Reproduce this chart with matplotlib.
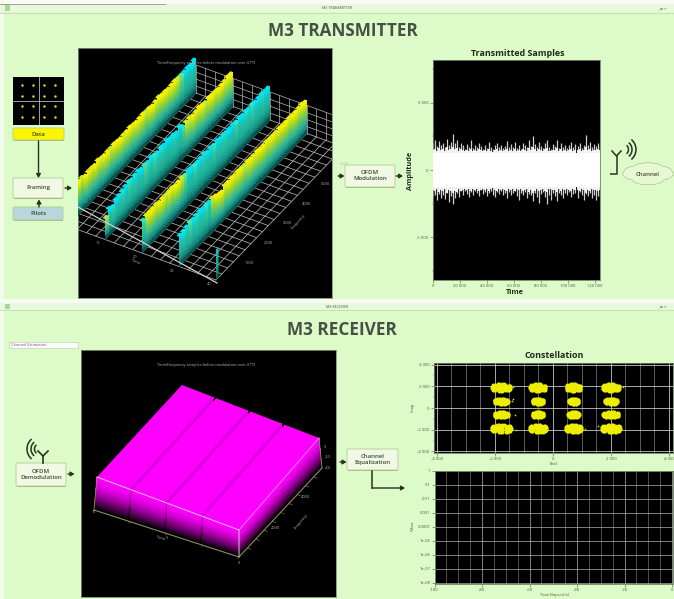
import numpy as np
import matplotlib
matplotlib.use("Agg")
import matplotlib.pyplot as plt
from matplotlib.patches import Rectangle, FancyBboxPatch, Ellipse, Arc, Polygon
from matplotlib.collections import PolyCollection
from matplotlib.colors import to_rgb
from matplotlib.ticker import NullLocator

# ---------------- data ----------------
main_titles = ["M3 TRANSMITTER", "M3 RECEIVER"]
ridge_times = [0, 10, 20, 30]
ridge1_height = [1.0,1.0,.98,1.0,1.02,.96,1.0,1.0,.98,1.04,1.0,.98,1.0,1.0,1.02,1.0,.98,1.0,1.0,1.03,
                 1.0,.98,1.0,1.02,1.0,1.0,.97,1.0,1.04,1.0,1.0,.98,1.0,1.02,1.0,1.0,1.0,1.02,1.0,1.05]
ridge2_height = [.62,.80,.74,.86,.88,.92,.96,1.0,.96,1.0,1.02,.98,1.0,.98,1.04,1.0,.97,1.02,1.0,1.05,
                 1.0,1.0,.97,1.06,.95,1.0,1.02,.98,1.0,1.04,1.0,.98,1.02,1.0,1.0,.98,1.0,1.02,1.05,1.04]
ridge3_height = [.95,1.0,1.0,1.0,1.02,.98,1.0,1.0,1.0,1.02,.98,1.0,1.03,1.0,1.04,1.02,1.0,1.0,1.02,1.05,
                 1.0,1.02,1.0,1.04,1.0,1.02,1.0,1.0,1.02,1.0,1.03,1.0,1.02,1.0,1.03,1.0,1.02,1.04,1.02,1.02]
ridge4_height = [.90,.92,.95,1.0,.98,1.0,1.02,1.0,1.0,1.0,1.02,.98,.92,.90,1.0,1.0,1.02,1.0,1.02,1.0,
                 1.0,1.02,1.0,1.0,1.02,1.0,1.0,1.02,1.0,1.0,1.0,1.02,1.0,1.0,1.02,1.0,1.0,1.02,1.04,1.0]
ridge1_tone = [0,.1,0,0,.2,0,0,.1,0,0,.1,0,0,.2,0,0,0,.1,0,0,
               .1,0,0,0,.2,0,0,.1,0,0,0,.1,0,0,.2,.6,1,1,1,1]
ridge2_tone = [.3,1,.9,1,1,.9,1,.8,1,.9,1,1,.7,.9,1,.8,1,.9,1,1,
               1,.9,1,1,.8,.2,.1,0,.1,0,0,.2,0,0,.1,0,0,.1,0,0]
ridge3_tone = [.8,.1,0,0,.1,0,0,.2,0,.1,0,0,.2,.6,1,1,.8,1,1,.9,
               1,1,.8,1,1,.9,1,1,1,.8,1,1,.9,1,.8,1,1,.9,1,1]
ridge4_tone = [1,.9,1,.7,1,.9,1,1,.8,1,.2,0,0,0,.1,0,0,.1,0,0,
               .2,0,0,.1,0,0,0,.1,0,0,.1,0,0,0,.1,0,0,.1,0,0]
ridge_heights = [ridge1_height, ridge2_height, ridge3_height, ridge4_height]
ridge_tones = [ridge1_tone, ridge2_tone, ridge3_tone, ridge4_tone]
time_ticks = [10, 20, 30, 40]
freq_ticks = [1000, 2000, 3000, 4000, 5000, 6000]
freq_max = 6700

samples_upper = [2050,2200,1800,2150,1900,2000,1750,2300,1850,2100,2650,2000,2250,1700,2050,1850,1600,1950,1750,2200,1650,
                 1900,1700,2000,1800,1600,1900,1650,2100,1750,1550,1850,2000,1700,1900,1650,1800,2150,1700,1950,1750,2100,
                 1650,1850,1600,2000,1900,1700,2200,1800,2500,1950,1700,2100,1800,1650,2000,2250,1750,1600,1950,1800,2200,
                 1650,2000,1750,1900,1650,1850,2100,1700,1950,1800,2000,1650,1900,2600,1850,2100,1750,1950,1800,2050,1900]
samples_lower = [-2000,-1850,-2200,-1800,-2050,-1900,-2150,-1750,-2400,-1950,-2550,-2100,-1750,-2000,-1600,-1850,-1550,-1800,-2000,-1650,-1900,
                 -1600,-1750,-1950,-1500,-1800,-1650,-1950,-1700,-1550,-1850,-2000,-1650,-1800,-1600,-1900,-1700,-2100,-1650,-1850,-1750,-1600,
                 -1950,-2200,-1700,-1850,-1650,-2050,-1800,-1900,-2300,-1750,-2000,-2450,-1800,-1650,-2000,-2550,-1850,-2250,-1700,-1950,-2300,
                 -1750,-1900,-2100,-1700,-1850,-1650,-2000,-1800,-1750,-2050,-1650,-1900,-2200,-1800,-1950,-1700,-2100,-1850,-2250,-1950,-2050]
samples_inner = [1500,1600,1450,1650,1500,1550,1400,1700,1500,1600,1750,1550,1650,1450,1550,1500,1400,1500,1450,1600,1400,
                 1500,1450,1550,1500,1400,1500,1450,1600,1450,1350,1500,1550,1450,1500,1400,1500,1600,1450,1500,1450,1600,
                 1400,1500,1400,1550,1500,1450,1650,1500,1700,1550,1450,1600,1500,1400,1550,1650,1450,1400,1500,1500,1650,
                 1400,1550,1450,1500,1400,1500,1600,1450,1500,1500,1550,1400,1500,1750,1500,1600,1450,1500,1500,1550,1500]
sample_ticks = [0, 20000, 40000, 60000, 80000, 100000, 120000]
amplitude_ticks = [-5000, 0, 5000]

qam_levels = [-3, -1, 1, 3]
const_x = [-1780, -517, 713, 2000]
const_y = [1880, 615, -615, -1900]
const_wx = [[345, 290, 265, 310], [250, 205, 175, 230], [255, 205, 195, 285], [370, 310, 290, 345]]
const_wy = [370, 300, 300, 400]
blob_u = [-.9,-.85,-.85,-.6,-.6,-.5,-.2,-.2,-.2,-.2,.1,.1,.1,.4,.4,.4,.4,.7,.7,.7,.9,.9,.85,-.9,.85,-.3,.25,-.65,.55,-.05,-.8,.8,-.8,.8,
          -.5,-.5,.1,.1,.7,.7,-.8,-.2,.4]
blob_v = [0,.35,-.35,.6,-.6,0,.8,-.8,.3,-.3,.85,-.85,0,.7,-.7,.2,-.25,.5,-.5,0,.1,-.2,.3,.1,-.3,.85,.85,-.6,-.7,-.85,.55,.5,-.55,-.5,
          .3,-.3,.4,-.4,.15,-.15,0,0,0]
stray_x = [-1500,-1380,-1420,-1950,-1260,-620,-220,-1320,2420,2350,1560,790,1120,2280,-1370]
stray_y = [2220,1950,620,-1500,-2000,-2000,-1950,-620,1900,-1650,-1700,1870,-1950,-620,800]
ber_ticks = [1, .1, .01, .001, .0001, 1e-5, 1e-6, 1e-7, 1e-8]
ber_labels = ["1", "0.1", "0.01", "0.001", "0.0001", "1e-05", "1e-06", "1e-07", "1e-08"]
elapsed_ticks = [-100, -80, -60, -40, -20, 0]
block_starts = [0, 10, 20, 30]
block_length = 9.1

# ---------------- figure helpers ----------------
W, H = 674, 599
BG = "#dcfbc8"
FONT = ["Open Sans", "DejaVu Sans"]
plt.rcParams["font.family"] = FONT
fig = plt.figure(figsize=(W / 100, H / 100), dpi=100, facecolor=BG)


def px_axes(x0, y0, x1, y1, **kw):
    return fig.add_axes([x0 / W, 1 - y1 / H, (x1 - x0) / W, (y1 - y0) / H], **kw)


page = px_axes(0, 0, W, H, zorder=0)
page.set_xlim(0, W)
page.set_ylim(H, 0)
page.axis("off")


def band(x0, y0, x1, y1, color):
    page.add_patch(Rectangle((x0, y0), x1 - x0, y1 - y0, fc=color, ec="none"))


def box(x0, y0, x1, y1, label, fc="#f1f8e3", size=4.3):
    page.add_patch(FancyBboxPatch((x0 + 1, y0 + 2), x1 - x0 - 1, y1 - y0 - 1, boxstyle="round,pad=0,rounding_size=1",
                                  fc="#9fbb78", ec="none"))
    page.add_patch(FancyBboxPatch((x0, y0), x1 - x0, y1 - y0, boxstyle="round,pad=0,rounding_size=1",
                                  fc=fc, ec="#b5cb92", lw=.6))
    page.text((x0 + x1) / 2, (y0 + y1) / 2, label, ha="center", va="center", fontsize=size,
              color="#39472f", fontweight="semibold", linespacing=1.25)


def arrow(x0, y0, x1, y1):
    page.annotate("", xy=(x1, y1), xytext=(x0, y0),
                  arrowprops=dict(arrowstyle="-|>,head_width=.13,head_length=.22", color="#26331f", lw=1.0,
                                  shrinkA=0, shrinkB=0))


def waves(cx, cy, flip=False):
    for r in (5.5, 9, 13):
        a = (130, 230) if flip else (-50, 50)
        page.add_patch(Arc((cx, cy), 2 * r, 2 * r, theta1=a[0], theta2=a[1], color="#26331f", lw=1.1))


# window chrome
band(0, 0, W, 4, "#f7fbf3")
band(0, 0, 4, H, "#f3faec")
band(0, 4, W, 12, "#e7f8dc")
page.plot([0, 165], [4.4, 4.4], color="#9aa596", lw=.7)
page.plot([0, W], [12.5, 12.5], color="#c2dcab", lw=.6)
band(0, 299, W, 303, "#f7fbf3")
band(0, 303, W, 310, "#e7f8dc")
page.plot([0, W], [310.4, 310.4], color="#c2dcab", lw=.6)
band(5, 5, 10, 11, "#a9d69a")
band(5, 303.5, 10, 309, "#a9d69a")
page.text(337, 8, "M3 TRANSMITTER", ha="center", va="center", fontsize=2.6, color="#555")
page.text(337, 306.5, "M3 RECEIVER", ha="center", va="center", fontsize=2.6, color="#555")
page.text(662, 8, "_ ▫ ×", ha="center", va="center", fontsize=3.2, color="#555")
page.text(662, 306.5, "_ ▫ ×", ha="center", va="center", fontsize=3.2, color="#555")

page.text(343, 31.5, main_titles[0], ha="center", va="center", fontsize=12.3, fontweight="bold", color="#465044")
page.text(342, 330, main_titles[1], ha="center", va="center", fontsize=12.4, fontweight="bold", color="#465044")

# transmitter diagram
mini = px_axes(13, 77, 64, 125, zorder=2, facecolor="black")
mini.set_xlim(-4.64, 4.64)
mini.set_ylim(-4.4, 4.4)
mini.set_xticks([])
mini.set_yticks([])
for s in mini.spines.values():
    s.set_visible(False)
mini.axhline(0, color="#bbbbbb", lw=.6)
mini.axvline(0, color="#bbbbbb", lw=.6)
mini.scatter(np.repeat(qam_levels, 4), np.tile(qam_levels, 4), s=3, color="#e6e620", lw=0)

box(13, 128, 64, 140, "Data", fc="#fbf500")
arrow(38.5, 141, 38.5, 178)
box(13, 178, 63, 198, "Framing")
arrow(39, 207, 39, 199.5)
box(13, 207, 63, 220, "Pilots", fc="#b8d6dc")
arrow(65, 188, 72, 188)
arrow(338, 176, 344.5, 176)
box(345, 165, 395, 187, "OFDM\nModulation")
arrow(396, 176, 403, 176)

# antenna + channel cloud
page.plot([610, 616.5, 616.5], [174, 174, 155], color="#26331f", lw=1.1, solid_capstyle="butt")
page.plot([612, 616.5, 621], [151, 156, 151], color="#26331f", lw=1.1)
waves(623, 149.5)
for cx, cy, w, h in [(648, 174, 50, 15), (634, 173, 20, 13), (662, 173, 20, 13), (648, 168, 30, 10), (648, 180, 30, 9)]:
    page.add_patch(Ellipse((cx, cy), w + 1, h + 1, fc="#8fb06a", ec="none"))
for cx, cy, w, h in [(648, 174, 50, 15), (634, 173, 20, 13), (662, 173, 20, 13), (648, 168, 30, 10), (648, 180, 30, 9)]:
    page.add_patch(Ellipse((cx, cy), w, h, fc="#e8f8d2", ec="none"))
page.text(648, 174, "Channel", ha="center", va="center", fontsize=4.3, fontweight="semibold", color="#39472f")

# receiver diagram
page.add_patch(Rectangle((9, 342), 69, 5.5, fc="#fbfdf8", ec="#b9c7b0", lw=.4))
page.text(11, 344.8, "Channel Estimation", ha="left", va="center", fontsize=2.8, color="#7c4f9c")
page.plot([43, 43], [463, 456], color="#26331f", lw=1.2)
page.plot([38, 43, 48], [451, 456, 451], color="#26331f", lw=1.2)
waves(40, 449, flip=True)
box(16, 463, 66, 486, "OFDM\nDemodulation")
arrow(68, 474, 74.5, 474)
arrow(340, 462, 346.5, 462)
box(347, 449, 398, 470, "Channel\nEqualization")
page.plot([372, 372], [471, 488], color="#26331f", lw=1.1)
arrow(372, 488, 405, 488)


# ---------------- 3-D transmitter panel, projected through a small helper ----------------
def make_panel(x0, y0, x1, y1):
    a = px_axes(x0, y0, x1, y1, zorder=2, facecolor="black")
    a.set_xlim(x0, x1)
    a.set_ylim(y1, y0)
    a.set_xticks([])
    a.set_yticks([])
    for s in a.spines.values():
        s.set_color("#7f8f72")
        s.set_linewidth(.6)
    return a


def tx_proj(t, f, z=0.0):
    return (68 + 3.7 * t + 128 * f, 226 + 1.35 * t - 133 * f - 33 * z)


tx = make_panel(78, 48, 332, 298)
GRID = "#b4b4b4"
for t in np.arange(0, 40.1, 2.5):
    tx.plot(*zip(tx_proj(t, 0), tx_proj(t, 1)), color=GRID, lw=.55, zorder=1)
for f in np.arange(0, 1.001, 1 / 22):
    tx.plot(*zip(tx_proj(0, f), tx_proj(40, f)), color=GRID, lw=.55, zorder=1)
for t in np.arange(0, 40.1, 2.5):
    tx.plot(*zip(tx_proj(t, 1, 0), tx_proj(t, 1, .85)), color=GRID, lw=.5, zorder=1)
for z in (0.21, .42, .63, .85):
    tx.plot(*zip(tx_proj(0, 1, z), tx_proj(40, 1, z)), color=GRID, lw=.5, zorder=1)
tx.plot([78, 217], [207, 283], color="#d0d0d0", lw=.9, zorder=6)

STOPS_Y = [to_rgb(c) for c in ("#f4f000", "#b8d818", "#6cc858", "#30b498", "#148c80", "#062e2c")]
STOPS_C = [to_rgb(c) for c in ("#00e0f0", "#14c4b8", "#20b8a0", "#1aa894", "#118478", "#062e2c")]


def ridge_color(tone, k):
    return tuple((1 - tone) * a + tone * b for a, b in zip(STOPS_Y[k], STOPS_C[k]))


def mix(c0, c1, w):
    return tuple((1 - w) * a + w * b for a, b in zip(c0, c1))


for r, (t0, heights, tones) in enumerate(zip(ridge_times, ridge_heights, ridge_tones)):
    n = len(heights)
    for i in range(n - 1, -1, -1):
        f0, f1 = i / n, (i + 1) / n
        h = heights[i]
        polys, cols = [], []
        layers = 12
        for j in range(layers):
            z1 = h * (1 - j / layers)
            z0 = h * (1 - (j + 1) / layers)
            u = j / layers * 4.999
            k = int(u)
            cols.append(mix(ridge_color(tones[i], k), ridge_color(tones[i], k + 1), u - k))
            polys.append([tx_proj(t0, f0, z0), tx_proj(t0, f1, z0), tx_proj(t0, f1, z1), tx_proj(t0, f0, z1)])
        tx.add_collection(PolyCollection(polys, facecolors=cols, edgecolors="none", antialiaseds=False, zorder=3 + r * .2))
        cap = [tx_proj(t0, f0, h), tx_proj(t0, f1, h), tx_proj(t0 - .7, f1, h), tx_proj(t0 - .7, f0, h)]
        tx.add_patch(Polygon(cap, fc=ridge_color(tones[i], 0), ec="none", zorder=3.1 + r * .2))

# lone bar at the wrapped corner of the grid
pilot_height = [.92]
for j in range(12):
    u = j / 12 * 4.999
    k = int(u)
    z1, z0 = pilot_height[0] * (1 - j / 12), pilot_height[0] * (1 - (j + 1) / 12)
    tx.add_patch(Polygon([tx_proj(40, 0, z0), tx_proj(40, .02, z0), tx_proj(40, .02, z1), tx_proj(40, 0, z1)],
                         fc=mix(ridge_color(1, k), ridge_color(1, k + 1), u - k), ec="none", zorder=5))

TINY = dict(color="#b8b8b8", fontsize=2.8, ha="center", va="center", zorder=7)
tx.text(206, 63, "Time/frequency samples before modulation over 4 TTI", **TINY)
for t in time_ticks[:4]:
    x, y = tx_proj(t - 0, 0)
    tx.text(x - 7, y + 4, str(t), **TINY)
for v in freq_ticks:
    x, y = tx_proj(40, v / freq_max)
    tx.text(x + 14, y + 3, str(v), **TINY)
tx.text(135, 262, "Time", rotation=-22, **TINY)
tx.text(298, 222, "Frequency", rotation=48, **TINY)

# ---------------- transmitted samples ----------------
ts = px_axes(432.5, 60, 600, 280, zorder=2, facecolor="black")
sample_time = np.linspace(300, 123700, len(samples_upper))
ts.vlines(sample_time, 0, samples_upper, color="#cfcfcf", lw=.9, zorder=2)
ts.vlines(sample_time, samples_lower, 0, color="#cfcfcf", lw=.9, zorder=2)
ts.vlines(sample_time, 0, samples_inner, color="white", lw=1.3, zorder=3)
ts.vlines(sample_time, -np.array(samples_inner), 0, color="white", lw=1.3, zorder=3)
ts.fill_between([0, 124000], -1250, 1250, color="white", lw=0, zorder=4)
ts.set_xlim(0, 124000)
ts.set_ylim(-8200, 8200)
ts.set_xticks(sample_ticks, ["0" if v == 0 else f"{v // 1000} 000" for v in sample_ticks], fontsize=3, color="#4a5a40")
ts.set_yticks(amplitude_ticks, ["-5 000", "0", "5 000"], fontsize=3, color="#4a5a40")
ts.set_xticks(np.arange(0, 124000, 5000), minor=True)
ts.set_yticks(np.arange(-7500, 8000, 2500), minor=True)
ts.tick_params(length=2, width=.4, pad=1, color="#4a5a40")
ts.tick_params(which="minor", length=1, width=.3, color="#4a5a40")
for s in ts.spines.values():
    s.set_color("#6f8060")
    s.set_linewidth(.6)
page.text(518, 53.5, "Transmitted Samples", ha="center", va="center", fontsize=6.4, fontweight="bold", color="#1f2a1a")
page.text(515, 293, "Time", ha="center", va="center", fontsize=5.2, fontweight="bold", color="#1f2a1a")
page.text(411, 171, "Amplitude", ha="center", va="center", rotation=90, fontsize=5.2, fontweight="bold", color="#1f2a1a")


# ---------------- 3-D receiver panel ----------------
def rx_proj(t, f, z=0.0):
    u = t / 40
    return (94 + 145 * u + 83 * f + z * (3 - 3 * u + 2 * f - 5 * u * f),
            510 + 47 * u - 89 * f - z * (33 - 6 * u + 3 * f))


rx = make_panel(81, 350, 336, 597)
MAG = np.array(to_rgb("#ff00ff"))
layers = 24
for start in block_starts:
    t0, t1 = start, start + block_length
    if start == block_starts[-1]:
        t1 = 40
    for face in ("side", "top", "near"):
        if face == "top":
            rx.add_patch(Polygon([rx_proj(t0, 0, 1), rx_proj(t1, 0, 1), rx_proj(t1, 1, 1), rx_proj(t0, 1, 1)],
                                 fc="#ff00ff", ec="none", zorder=2))
            continue
        polys, cols = [], []
        for j in range(layers):
            z1, z0 = 1 - j / layers, 1 - (j + 1) / layers
            if face == "side":
                polys.append([rx_proj(t1, 0, z0), rx_proj(t1, 1, z0), rx_proj(t1, 1, z1), rx_proj(t1, 0, z1)])
            else:
                polys.append([rx_proj(t0, 0, z0), rx_proj(t1, 0, z0), rx_proj(t1, 0, z1), rx_proj(t0, 0, z1)])
            shade = 1 - (j / (layers - 1)) ** 1.6
            if face == "side" and start != block_starts[-1]:
                shade *= .9
            cols.append(tuple(MAG * shade))
        rx.add_collection(PolyCollection(polys, facecolors=cols, edgecolors="none", antialiaseds=False, zorder=2))

OLIVE = "#8b8f5c"
rx.plot(*zip(rx_proj(0, 0), rx_proj(40, 0), rx_proj(40, 1)), color=OLIVE, lw=.8, zorder=3)
rx.plot(*zip(rx_proj(0, 0), rx_proj(0, 0, 1)), color=OLIVE, lw=.6, zorder=3)
rx.plot(*zip(rx_proj(40, 1), rx_proj(40, 1, 1)), color=OLIVE, lw=.6, zorder=3)
rx.plot(*zip(rx_proj(0, 0, 1), rx_proj(40, 0, 1), rx_proj(40, 0)), color="#cfc6d4", lw=.7, zorder=3)
rx.plot(*zip(rx_proj(40, 0, 1), rx_proj(40, 1, 1)), color="#d9b0dd", lw=.5, zorder=3)
for f in np.arange(.1, 1, .1):
    rx.plot(*zip(rx_proj(40, f), rx_proj(41, f)), color=OLIVE, lw=.4, zorder=3)
for t in (0, 10, 20, 30, 40):
    rx.plot(*zip(rx_proj(t, 0), rx_proj(t, -.015)), color=OLIVE, lw=.4, zorder=3)
rx.text(206, 365, "Time/frequency samples before modulation over 4 TTI", **TINY)
rx.text(94, 512, "0", **TINY)
rx.text(239, 563, "0", **TINY)
rx.text(167, 538, "5", **TINY)
rx.text(161, 538, "Time", rotation=-15, **TINY)
rx.text(305, 497, "4000", **TINY)
rx.text(275, 528, "2000", **TINY)
rx.text(301, 521, "Frequency", rotation=50, **TINY)
rx.text(325, 447, "0", **TINY)
rx.text(328, 457.5, "-20", **TINY)
rx.text(328, 468, "-40", **TINY)


# ---------------- constellation ----------------
co = px_axes(433.5, 363, 673, 453, zorder=2, facecolor="black")
co.set_xlim(-4115, 4140)
co.set_ylim(-4150, 4150)
co.set_xticks([-4000, -2000, 0, 2000, 4000], ["-4 000", "-2 000", "0", "2 000", "4 000"], fontsize=3, color="#4a5a40")
co.set_yticks([-4000, -2000, 0, 2000, 4000], ["-4 000", "-2 000", "0", "2 000", "4 000"], fontsize=3, color="#4a5a40")
co.set_xticks(np.arange(-4000, 4001, 500), minor=True)
co.set_yticks(np.arange(-4000, 4001, 1000), minor=True)
co.grid(True, which="major", color="#c6c6c6", lw=.6)
co.grid(True, which="minor", axis="x", color="#8e8e8e", lw=.45)
co.set_axisbelow(True)
co.tick_params(length=2, width=.4, pad=1, color="#4a5a40")
co.tick_params(which="minor", length=1, width=.3, color="#4a5a40")
for s in co.spines.values():
    s.set_color("#6f8060")
    s.set_linewidth(.6)
for row, cy in enumerate(const_y):
    for col, cx in enumerate(const_x):
        co.scatter(cx + np.array(blob_u) * const_wx[row][col], cy + np.array(blob_v) * const_wy[row],
                   s=8, color="#eeee00", lw=0, zorder=3)
co.scatter(stray_x, stray_y, s=1.5, color="#d8d800", lw=0, zorder=3)
page.text(554, 355, "Constellation", ha="center", va="center", fontsize=6.4, fontweight="bold", color="#1f2a1a")
page.text(553, 464, "Real", ha="center", va="center", fontsize=2.8, color="#4a5a40")
page.text(413, 408, "Imag", ha="center", va="center", rotation=90, fontsize=2.8, color="#4a5a40")

# ---------------- BER plot ----------------
be = px_axes(434.5, 471, 673, 584, zorder=2, facecolor="black")
be.set_yscale("log")
be.set_xlim(-100, 0.4)
be.set_ylim(8e-9, 1)
be.set_xticks(elapsed_ticks, [str(v) for v in elapsed_ticks], fontsize=3, color="#4a5a40")
be.set_yticks(ber_ticks, ber_labels, fontsize=3, color="#4a5a40")
be.set_xticks(np.arange(-100, 1, 5), minor=True)
be.yaxis.set_minor_locator(NullLocator())
be.grid(True, which="major", color="#b2b2b2", lw=.5)
be.grid(True, which="minor", axis="x", color="#8a8a8a", lw=.4)
be.tick_params(length=2, width=.4, pad=1, color="#4a5a40")
be.tick_params(which="minor", length=1, width=.3, color="#4a5a40")
for s in be.spines.values():
    s.set_color("#6f8060")
    s.set_linewidth(.6)
page.text(554, 595, "Time Elapsed (s)", ha="center", va="center", fontsize=2.8, color="#4a5a40")
page.text(413, 527, "Y Axis", ha="center", va="center", rotation=90, fontsize=2.8, color="#4a5a40")

fig.savefig("out.png", dpi=100, facecolor=BG)
